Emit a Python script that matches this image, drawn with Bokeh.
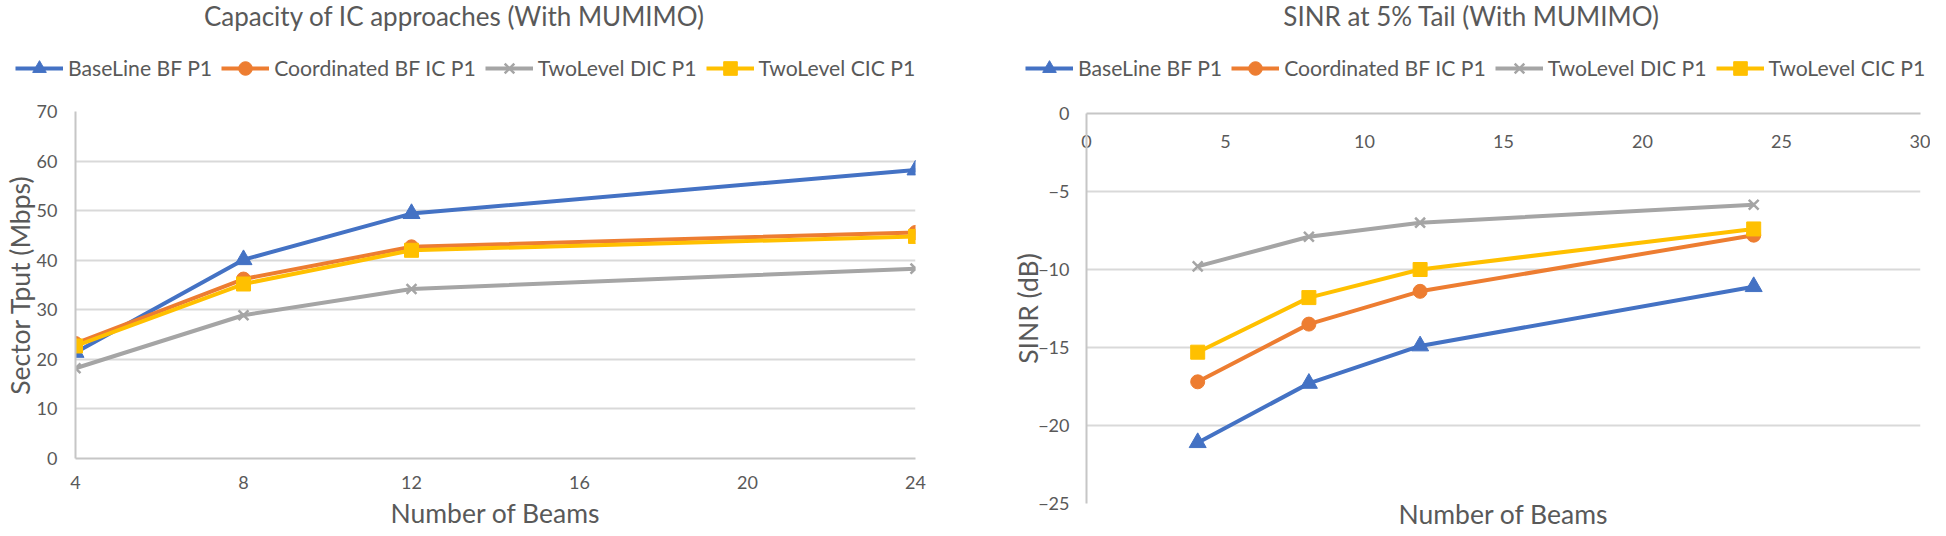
from bokeh.plotting import figure
from bokeh.layouts import row, column
from bokeh.models import Range1d, Legend, LegendItem, Label, LinearAxis
from bokeh.embed import file_html
from bokeh.resources import INLINE

# ---------------- data ----------------
beams = [4, 8, 12, 24]
series_names = ["BaseLine BF P1", "Coordinated BF IC P1", "TwoLevel DIC P1", "TwoLevel CIC P1"]

tput_baseline = [21.4, 40.1, 49.4, 58.2]
tput_coord = [23.2, 36.2, 42.7, 45.6]
tput_dic = [18.2, 28.9, 34.2, 38.3]
tput_cic = [22.7, 35.2, 42.0, 44.8]

sinr_baseline = [-21.1, -17.3, -14.9, -11.1]
sinr_coord = [-17.2, -13.5, -11.4, -7.8]
sinr_dic = [-9.8, -7.9, -7.0, -5.85]
sinr_cic = [-15.3, -11.8, -10.0, -7.4]

left_xticks = [4, 8, 12, 16, 20, 24]
left_yticks = [0, 10, 20, 30, 40, 50, 60, 70]
right_xticks = [0, 5, 10, 15, 20, 25, 30]
right_yticks = [0, -5, -10, -15, -20, -25]

left_title = "Capacity of IC approaches (With MUMIMO)"
right_title = "SINR at 5% Tail (With MUMIMO)"
x_title = "Number of Beams"
left_ytitle = "Sector Tput (Mbps)"
right_ytitle = "SINR (dB)"

# ---------------- style ----------------
colors = ["#4472C4", "#ED7D31", "#A5A5A5", "#FFC000"]
markers = ["triangle", "circle", "x", "square"]
msizes = [17, 14, 14, 14]
FONT = "Lato"
TXT = "#595959"
GRID = "#D9D9D9"
AXIS = "#C6C6C6"
AX_TITLE = "26.5px"

W = 965
HH = 101         # header (title + legend) height
MH = 431         # main plot height


def draw_series(p, ys_list):
    rs = []
    for ys, c, m, s in zip(ys_list, colors, markers, msizes):
        lr = p.line(beams, ys, line_color=c, line_width=4)
        if m == "x":
            sr = p.scatter(beams, ys, marker=m, size=s, line_color=c, line_width=2.5)
        else:
            sr = p.scatter(beams, ys, marker=m, size=s, fill_color=c, line_color=c)
        rs.append((lr, sr))
    return rs


def header(title, title_x, legend_x, ys_list):
    # full-canvas frame (no axes); the ranges keep these copies of the series off-view,
    # they only feed the legend glyphs
    h = figure(width=W, height=HH, x_range=Range1d(1000, 1001), y_range=Range1d(1000, 1001),
               x_axis_type=None, y_axis_type=None, output_backend="svg", toolbar_location=None,
               min_border=0)
    h.frame_align = False
    h.outline_line_color = None
    h.border_fill_color = "white"
    h.background_fill_color = "white"
    rs = draw_series(h, ys_list)
    items = [LegendItem(label=n, renderers=[lr, sr]) for n, (lr, sr) in zip(series_names, rs)]
    lg = Legend(items=items, location=(legend_x, 16), orientation="horizontal")
    lg.background_fill_alpha = 0
    lg.border_line_alpha = 0
    lg.padding = 0
    lg.margin = 0
    lg.glyph_width = 48
    lg.glyph_height = 34
    lg.label_height = 34
    lg.label_standoff = 5
    lg.spacing = 9
    lg.label_text_font = FONT
    lg.label_text_font_size = "21.2px"
    lg.label_text_color = TXT
    h.add_layout(lg)
    h.add_layout(Label(x=title_x, y=HH - 15, x_units="screen", y_units="screen", text=title,
                       text_font=FONT, text_font_size="26px", text_color=TXT,
                       text_align="center", text_baseline="middle"))
    return h


def main_fig(xr, yr, bl, br, bt, bb, x_loc):
    p = figure(width=W, height=MH, x_range=xr, y_range=yr, output_backend="svg",
               toolbar_location=None, x_axis_location=x_loc,
               min_border_left=bl, min_border_right=br, min_border_top=bt, min_border_bottom=bb)
    p.frame_align = False
    p.outline_line_color = None
    p.background_fill_color = "white"
    p.border_fill_color = "white"
    p.xgrid.visible = False
    p.ygrid.grid_line_color = GRID
    p.ygrid.grid_line_width = 2
    for ax in (p.xaxis, p.yaxis):
        ax.axis_line_color = AXIS
        ax.axis_line_width = 2
        ax.major_tick_line_color = None
        ax.minor_tick_line_color = None
        ax.major_tick_out = 0
        ax.major_tick_in = 0
        ax.major_label_text_font = FONT
        ax.major_label_text_font_size = "18px"
        ax.major_label_text_color = TXT
        ax.axis_label_text_font = FONT
        ax.axis_label_text_font_size = AX_TITLE
        ax.axis_label_text_font_style = "normal"
        ax.axis_label_text_color = TXT
    return p


# ---------------- left chart ----------------
p1 = main_fig(Range1d(4, 24), Range1d(0, 70), 67, 50, 10, 74, "below")
p1.xaxis.ticker = left_xticks
p1.yaxis.ticker = left_yticks
p1.xaxis.major_label_standoff = 17
p1.yaxis.major_label_standoff = 18
p1.xaxis.axis_label = x_title
p1.xaxis.axis_label_standoff = 5
p1.yaxis.axis_label = left_ytitle
p1.yaxis.axis_label_standoff = -2
draw_series(p1, [tput_baseline, tput_coord, tput_dic, tput_cic])
h1 = header(left_title, 454, 15, [tput_baseline, tput_coord, tput_dic, tput_cic])

# ---------------- right chart ----------------
p2 = main_fig(Range1d(0, 30), Range1d(-25, 0), 121, 10, 12, 25, "above")
p2.xaxis.ticker = right_xticks
p2.yaxis.ticker = right_yticks
p2.xaxis.major_label_standoff = -34
p2.yaxis.major_label_standoff = 17
p2.yaxis.axis_label = right_ytitle
p2.yaxis.axis_label_standoff = -9
draw_series(p2, [sinr_baseline, sinr_coord, sinr_dic, sinr_cic])
bottom_axis = LinearAxis(ticker=[], axis_label=x_title, axis_line_color=None,
                         major_tick_line_color=None, minor_tick_line_color=None,
                         major_tick_out=0, major_tick_in=0,
                         major_label_text_alpha=0, axis_label_standoff=-6,
                         axis_label_text_font=FONT, axis_label_text_font_size=AX_TITLE,
                         axis_label_text_font_style="normal", axis_label_text_color=TXT)
p2.add_layout(bottom_axis, "below")
h2 = header(right_title, 506, 60, [sinr_baseline, sinr_coord, sinr_dic, sinr_cic])

layout = row(column(h1, p1, spacing=0), column(h2, p2, spacing=0), spacing=0)
open("out.html", "w").write(file_html(layout, INLINE))
